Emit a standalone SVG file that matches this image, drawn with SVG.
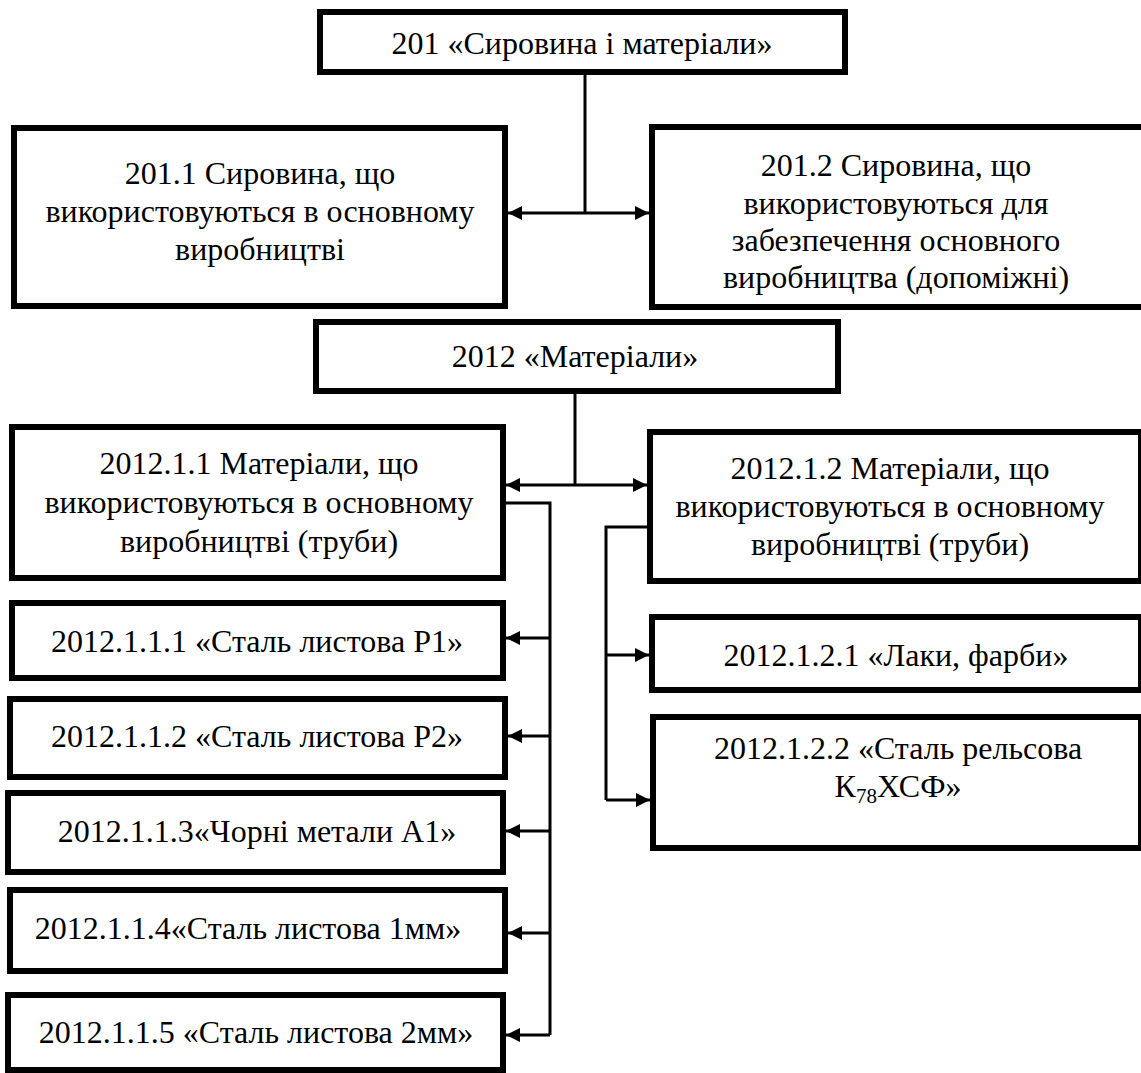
<svg xmlns="http://www.w3.org/2000/svg" width="1141" height="1073" viewBox="0 0 1141 1073">
<style>
.box{fill:#fff;stroke:#000;stroke-width:6}
.t{font-family:"Liberation Serif",Tinos,"Times New Roman","DejaVu Serif","Noto Serif",serif;font-size:32px;fill:#000;text-anchor:middle}
.c{fill:none;stroke:#000;stroke-width:3}
</style>
<defs>
<marker id="ah" viewBox="0 0 14 14" refX="14" refY="7" markerWidth="4.67" markerHeight="4.67" markerUnits="strokeWidth" orient="auto-start-reverse">
<path d="M0,0 L14,7 L0,14 z" fill="#000"/>
</marker>
</defs>
<rect width="1141" height="1073" fill="#fff"/>
<g id="connectors">
<path class="c" d="M585,72 V213"/>
<path class="c" d="M508,213 H649" marker-start="url(#ah)" marker-end="url(#ah)"/>
<path class="c" d="M575,391 V485"/>
<path class="c" d="M506,485 H647" marker-start="url(#ah)" marker-end="url(#ah)"/>
<path class="c" d="M506,503 H550 V1035"/>
<path class="c" d="M550,638 H506" marker-end="url(#ah)"/>
<path class="c" d="M550,736 H508" marker-end="url(#ah)"/>
<path class="c" d="M550,831 H506" marker-end="url(#ah)"/>
<path class="c" d="M550,933 H508" marker-end="url(#ah)"/>
<path class="c" d="M550,1035 H506" marker-end="url(#ah)"/>
<path class="c" d="M647,527 H606 V800"/>
<path class="c" d="M606,655 H649" marker-end="url(#ah)"/>
<path class="c" d="M606,800 H650" marker-end="url(#ah)"/>
</g>
<g id="n201">
<rect class="box" x="320" y="12" width="525" height="60"/>
<text class="t" x="582" y="54">201 «Сировина і матеріали»</text>
</g>
<g id="n201_1">
<rect class="box" x="14" y="128" width="491" height="178"/>
<text class="t" x="260" y="184">201.1 Сировина, що</text>
<text class="t" x="260" y="222">використовуються в основному</text>
<text class="t" x="260" y="260">виробництві</text>
</g>
<g id="n201_2">
<rect class="box" x="652" y="127" width="500" height="180"/>
<text class="t" x="896" y="176">201.2 Сировина, що</text>
<text class="t" x="896" y="214">використовуються для</text>
<text class="t" x="896" y="251">забезпечення основного</text>
<text class="t" x="896" y="288">виробництва (допоміжні)</text>
</g>
<g id="n2012">
<rect class="box" x="316" y="322" width="522" height="69"/>
<text class="t" x="575" y="367">2012 «Матеріали»</text>
</g>
<g id="n2012_1_1">
<rect class="box" x="12" y="427" width="491" height="151"/>
<text class="t" x="259" y="474">2012.1.1 Матеріали, що</text>
<text class="t" x="259" y="513">використовуються в основному</text>
<text class="t" x="259" y="552">виробництві (труби)</text>
</g>
<g id="n2012_1_2">
<rect class="box" x="650" y="432" width="491" height="149"/>
<text class="t" x="890" y="479">2012.1.2 Матеріали, що</text>
<text class="t" x="890" y="517">використовуються в основному</text>
<text class="t" x="890" y="555">виробництві (труби)</text>
</g>
<g id="n2012_1_1_1">
<rect class="box" x="12" y="603" width="491" height="75"/>
<text class="t" x="257" y="652">2012.1.1.1 «Сталь листова Р1»</text>
</g>
<g id="n2012_1_1_2">
<rect class="box" x="10" y="699" width="495" height="78"/>
<text class="t" x="257" y="747">2012.1.1.2 «Сталь листова Р2»</text>
</g>
<g id="n2012_1_1_3">
<rect class="box" x="8" y="793" width="495" height="79"/>
<text class="t" x="257" y="842">2012.1.1.3«Чорні метали А1»</text>
</g>
<g id="n2012_1_1_4">
<rect class="box" x="10" y="890" width="495" height="81"/>
<text class="t" x="248" y="939">2012.1.1.4«Сталь листова 1мм»</text>
</g>
<g id="n2012_1_1_5">
<rect class="box" x="8" y="995" width="495" height="75"/>
<text class="t" x="256" y="1043">2012.1.1.5 «Сталь листова 2мм»</text>
</g>
<g id="n2012_1_2_1">
<rect class="box" x="652" y="617" width="489" height="73"/>
<text class="t" x="896" y="666">2012.1.2.1 «Лаки, фарби»</text>
</g>
<g id="n2012_1_2_2">
<rect class="box" x="653" y="717" width="488" height="131"/>
<text class="t" x="898" y="759">2012.1.2.2 «Сталь рельсова</text>
<text class="t" x="898" y="797">К<tspan font-size="21" dy="6">78</tspan><tspan dy="-6">ХСФ»</tspan></text>
</g>
</svg>
